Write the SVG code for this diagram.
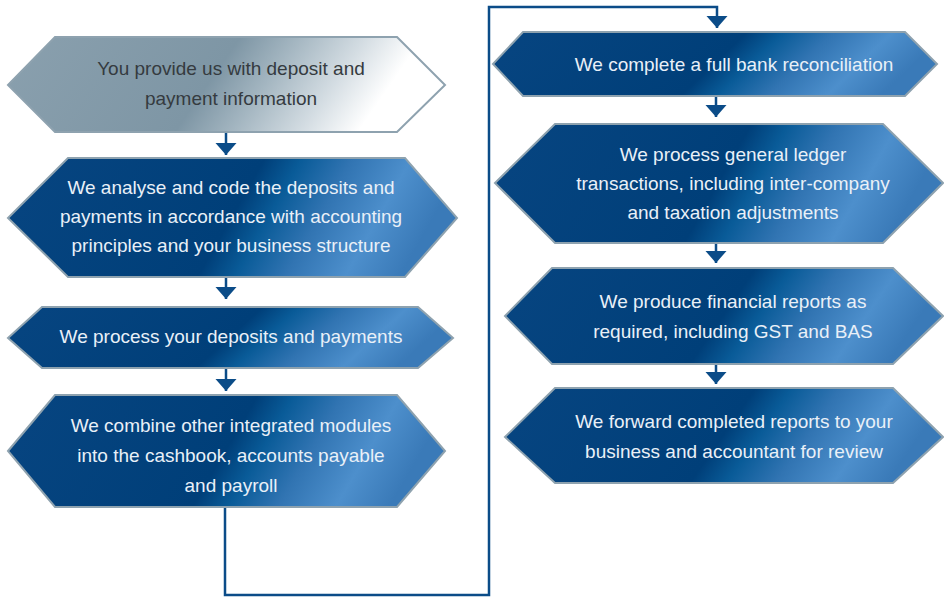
<svg xmlns="http://www.w3.org/2000/svg" width="944" height="597" viewBox="0 0 944 597">
<style>
.hex{stroke:#8ea2af;stroke-width:2;fill:url(#blue)}
.hex.grey{fill:url(#grey)}
.t{font-family:"Liberation Sans",Arial,sans-serif;font-size:19px;fill:#e9f0f8;text-anchor:middle}
.t.dark{fill:#353b40}
.conn{fill:none;stroke:#0b4c88;stroke-width:2.5;marker-end:url(#arr)}
</style>
<defs>
<linearGradient id="blue" x1="0" y1="0" x2="1" y2="0.15">
<stop offset="0" stop-color="#074581"/>
<stop offset="0.56" stop-color="#003f79"/>
<stop offset="0.64" stop-color="#095b98"/>
<stop offset="0.75" stop-color="#3174b2"/>
<stop offset="0.88" stop-color="#4d8fcc"/>
<stop offset="1" stop-color="#3a7ab8"/>
</linearGradient>
<linearGradient id="grey" x1="0" y1="0" x2="1" y2="0.15">
<stop offset="0" stop-color="#8aa0ae"/>
<stop offset="0.52" stop-color="#7e96a5"/>
<stop offset="0.65" stop-color="#a4b6c1"/>
<stop offset="0.8" stop-color="#d3dce2"/>
<stop offset="0.93" stop-color="#ffffff"/>
<stop offset="1" stop-color="#ffffff"/>
</linearGradient>
<marker id="arr" markerUnits="userSpaceOnUse" markerWidth="13" markerHeight="22" refX="12" refY="11" orient="auto">
<path d="M0,0.5 L12,11 L0,21.5 z" fill="#0b4c88"/>
</marker>
</defs>
<g id="connectors">
<path class="conn" d="M226,132 V155"/>
<path class="conn" d="M226,277 V299"/>
<path class="conn" d="M226,368 V391"/>
<path class="conn" d="M225,507 V595 H489 V7 H717 V28"/>
<path class="conn" d="M716,96 V117"/>
<path class="conn" d="M716,243 V263"/>
<path class="conn" d="M716,364 V384"/>
</g>
<g id="n1">
<polygon class="hex grey" points="8,85 55,37 397,37 445,85 397,132 55,132"/>
<text class="t dark" x="231" y="75">You provide us with deposit and</text>
<text class="t dark" x="231" y="105">payment information</text>
</g>
<g id="n2">
<polygon class="hex" points="8,218 68,158 405,158 457,218 405,277 68,277"/>
<text class="t" x="231" y="194">We analyse and code the deposits and</text>
<text class="t" x="231" y="223">payments in accordance with accounting</text>
<text class="t" x="231" y="252">principles and your business structure</text>
</g>
<g id="n3">
<polygon class="hex" points="8,338 42,307 418,307 453,338 418,368 42,368"/>
<text class="t" x="231" y="343">We process your deposits and payments</text>
</g>
<g id="n4">
<polygon class="hex" points="8,451 55,395 397,395 445,451 397,507 55,507"/>
<text class="t" x="231" y="432">We combine other integrated modules</text>
<text class="t" x="231" y="462">into the cashbook, accounts payable</text>
<text class="t" x="231" y="492">and payroll</text>
</g>
<g id="n5">
<polygon class="hex" points="493,64 523,32 905,32 937,64 905,96 523,96"/>
<text class="t" x="734" y="71">We complete a full bank reconciliation</text>
</g>
<g id="n6">
<polygon class="hex" points="495,183 555,124 883,124 943,183 883,243 555,243"/>
<text class="t" x="733" y="161">We process general ledger</text>
<text class="t" x="733" y="190">transactions, including inter-company</text>
<text class="t" x="733" y="219">and taxation adjustments</text>
</g>
<g id="n7">
<polygon class="hex" points="505,316 552,268 893,268 943,316 893,364 552,364"/>
<text class="t" x="733" y="308">We produce financial reports as</text>
<text class="t" x="733" y="338">required, including GST and BAS</text>
</g>
<g id="n8">
<polygon class="hex" points="505,437 555,388 893,388 943,437 893,483 555,483"/>
<text class="t" x="734" y="428">We forward completed reports to your</text>
<text class="t" x="734" y="458">business and accountant for review</text>
</g>
</svg>
